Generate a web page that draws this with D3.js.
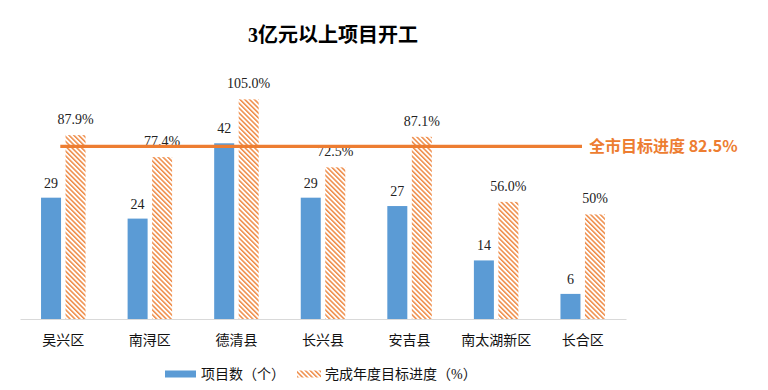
<!DOCTYPE html>
<html>
<head>
<meta charset="utf-8">
<script src="https://cdn.jsdelivr.net/npm/d3@7"></script>
<style>
  body { margin: 0; background: #fff; }
  svg { display: block; }
</style>
</head>
<body>
<div id="chart"></div>
<script>
const categories = ['吴兴区', '南浔区', '德清县', '长兴县', '安吉县', '南太湖新区', '长合区'];
const projectCounts = [29, 24, 42, 29, 27, 14, 6];
const progressPct = [87.9, 77.4, 105.0, 72.5, 87.1, 56.0, 50];
const pctLabels = ['87.9%', '77.4%', '105.0%', '72.5%', '87.1%', '56.0%', '50%'];
const cityTarget = 82.5;
const cityTargetLabel = '全市目标进度 82.5%';
const seriesNames = ['项目数（个）', '完成年度目标进度（%）'];
const title = '3亿元以上项目开工';

const width = 768;
const height = 390;
const margin = {
  top: 68, right: 142, bottom: 71, left: 20,
};
const blue = '#5B9BD5';
const orange = '#ED7D31';
const serif = '"Liberation Serif", "Times New Roman", "Noto Sans CJK SC", serif';
const barWidth = 20;
const barGap = 4.5;

const svg = d3
  .select('#chart')
  .append('svg')
  .attr('width', width)
  .attr('height', height);

// hatched fill for the progress bars
svg
  .append('defs')
  .append('pattern')
  .attr('id', 'hatch')
  .attr('patternUnits', 'userSpaceOnUse')
  .attr('width', 3.4)
  .attr('height', 4)
  .attr('patternTransform', 'rotate(-45)')
  .append('rect')
  .attr('x', 0)
  .attr('y', 0)
  .attr('width', 1.5)
  .attr('height', 4)
  .attr('fill', '#EE8A45');

const x = d3
  .scaleBand()
  .domain(categories)
  .range([margin.left, width - margin.right]);

const yCount = d3
  .scaleLinear()
  .domain([0, 60])
  .range([height - margin.bottom, margin.top]);

const yPct = d3
  .scaleLinear()
  .domain([0, 120])
  .range([height - margin.bottom, margin.top]);

const center = (i) => x(categories[i]) + x.bandwidth() / 2;

svg
  .append('text')
  .attr('x', 333)
  .attr('y', 42)
  .attr('text-anchor', 'middle')
  .attr('font-family', serif)
  .attr('font-weight', 'bold')
  .attr('font-size', 20)
  .attr('fill', '#000')
  .text(title);

// count bars
svg
  .selectAll('.bar-count')
  .data(projectCounts)
  .enter()
  .append('rect')
  .attr('class', 'bar-count')
  .attr('x', (d, i) => center(i) - barGap / 2 - barWidth)
  .attr('y', (d) => yCount(d))
  .attr('width', barWidth)
  .attr('height', (d) => yCount(0) - yCount(d))
  .attr('fill', blue);

svg
  .selectAll('.label-count')
  .data(projectCounts)
  .enter()
  .append('text')
  .attr('class', 'label-count')
  .attr('x', (d, i) => center(i) - barGap / 2 - barWidth / 2)
  .attr('y', (d) => yCount(d) - 10)
  .attr('text-anchor', 'middle')
  .attr('font-family', serif)
  .attr('font-size', 14)
  .attr('fill', '#222')
  .text((d) => d);

// progress bars
svg
  .selectAll('.bar-pct')
  .data(progressPct)
  .enter()
  .append('rect')
  .attr('class', 'bar-pct')
  .attr('x', (d, i) => center(i) + barGap / 2)
  .attr('y', (d) => yPct(d))
  .attr('width', barWidth)
  .attr('height', (d) => yPct(0) - yPct(d))
  .attr('fill', 'url(#hatch)');

svg
  .selectAll('.label-pct')
  .data(progressPct)
  .enter()
  .append('text')
  .attr('class', 'label-pct')
  .attr('x', (d, i) => center(i) + barGap / 2 + barWidth / 2)
  .attr('y', (d) => yPct(d) - 11)
  .attr('text-anchor', 'middle')
  .attr('font-family', serif)
  .attr('font-size', 14)
  .attr('fill', '#222')
  .text((d, i) => pctLabels[i]);

// baseline + category labels
const xAxis = svg
  .append('g')
  .attr('transform', `translate(0,${height - margin.bottom})`)
  .call(d3.axisBottom(x).tickSize(0).tickPadding(16));

xAxis.select('.domain').attr('stroke', '#D9D9D9');
xAxis
  .selectAll('text')
  .attr('font-family', serif)
  .attr('font-size', 14)
  .attr('fill', '#111');

// city-wide target line
svg
  .append('line')
  .attr('x1', center(0) - 3)
  .attr('x2', 582)
  .attr('y1', yPct(cityTarget))
  .attr('y2', yPct(cityTarget))
  .attr('stroke', orange)
  .attr('stroke-width', 3.2);

svg
  .append('text')
  .attr('x', 589)
  .attr('y', yPct(cityTarget))
  .attr('dy', '0.36em')
  .attr('font-family', '"Noto Sans CJK SC", "Noto Sans", sans-serif')
  .attr('font-weight', 'bold')
  .attr('font-size', 16)
  .attr('fill', orange)
  .text(cityTargetLabel);

// legend
const legend = svg.append('g').attr('transform', 'translate(0,374)');

legend
  .append('rect')
  .attr('x', 165)
  .attr('y', -3.5)
  .attr('width', 31)
  .attr('height', 7)
  .attr('fill', blue);

legend
  .append('text')
  .attr('x', 201)
  .attr('dy', '0.36em')
  .attr('font-family', serif)
  .attr('font-size', 14)
  .attr('fill', '#111')
  .text(seriesNames[0]);

legend
  .append('rect')
  .attr('x', 297)
  .attr('y', -3.5)
  .attr('width', 24)
  .attr('height', 7)
  .attr('fill', 'url(#hatch)');

legend
  .append('text')
  .attr('x', 325)
  .attr('dy', '0.36em')
  .attr('font-family', serif)
  .attr('font-size', 14)
  .attr('fill', '#111')
  .text(seriesNames[1]);
</script>
</body>
</html>
